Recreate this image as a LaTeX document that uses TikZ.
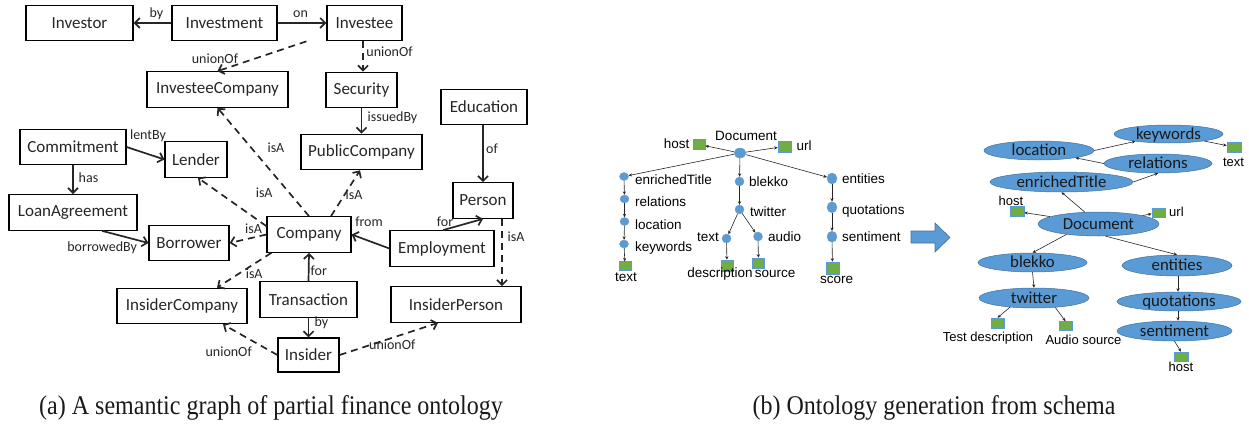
\documentclass[tikz,border=0pt]{standalone}
\usepackage{fontspec}
\setmainfont{Carlito}
\newfontfamily\arialf{Liberation Sans}
\newfontfamily\timesf{Liberation Serif}
\usetikzlibrary{arrows.meta,shapes.geometric,calc}
\definecolor{nodeblue}{HTML}{5B9BD5}
\definecolor{nodeborder}{HTML}{41719C}
\definecolor{leafgreen}{HTML}{70AD47}
\begin{document}
\begin{tikzpicture}[x=1pt,y=-1pt,
  box/.style={draw, line width=1.2pt, inner sep=0pt, minimum height=35.5pt, font=\fontsize{17}{17}\selectfont, text=black!85},
  rel/.style={line width=1.7pt, draw=black!85, -{Straight Barb[length=5pt,width=10pt]}},
  isa/.style={rel, dash pattern=on 7pt off 5pt},
  lab/.style={font=\fontsize{14}{14}\selectfont, inner sep=0pt, anchor=base, text=black!85},
  dot/.style={ellipse, fill=nodeblue, draw=nodeborder!70, line width=0.4pt, inner sep=0pt, minimum width=9pt, minimum height=8pt},
  leaf/.style={rectangle, fill=leafgreen, draw=nodeblue, line width=0.6pt, inner sep=0pt, minimum width=12pt, minimum height=9.5pt},
  tl/.style={font=\arialf\fontsize{13.5}{13.5}\selectfont, inner sep=0pt, text=black},
  tarr/.style={line width=0.6pt, draw=black!85, -{Stealth[length=3.5pt,width=3.2pt]}},
  ell/.style={ellipse, fill=nodeblue, draw=nodeborder, line width=0.5pt, inner sep=0pt, text height=10.6pt, text depth=0pt, font=\fontsize{16.8}{16.8}\selectfont, text=black!90},
  rl/.style={font=\arialf\fontsize{13}{13}\selectfont, inner sep=0pt, text=black, anchor=base},
  captxt/.style={font=\timesf\fontsize{27}{27}\selectfont, inner sep=0pt, anchor=base, text=black!90}
]
\useasboundingbox (0,0) rectangle (1249,425);

% ---------------- (a) semantic graph ----------------
\node[box, minimum width=107pt] (Investor) at (79.5,23) {Investor};
\node[box, minimum width=105pt] (Investment) at (224.5,23) {Investment};
\node[box, minimum width=75pt] (Investee) at (364.5,23) {Investee};
\node[box, minimum width=141pt] (InvesteeCompany) at (217.5,89.5) {InvesteeCompany};
\node[box, minimum width=71pt] (Security) at (361.5,90) {Security};
\node[box, minimum width=121pt] (PublicCompany) at (361.5,152) {PublicCompany};
\node[box, minimum width=86pt] (Education) at (484,107) {Education};
\node[box, minimum width=106pt] (Commitment) at (73,147) {Commitment};
\node[box, minimum width=62pt] (Lender) at (196,159.5) {Lender};
\node[box, minimum width=128pt] (LoanAgreement) at (73,212.5) {LoanAgreement};
\node[box, minimum width=80pt] (Borrower) at (189,243) {Borrower};
\node[box, minimum width=84pt] (Company) at (309,234.5) {Company};
\node[box, minimum width=60pt] (Person) at (483,200.5) {Person};
\node[box, minimum width=104pt] (Employment) at (442,248.5) {Employment};
\node[box, minimum width=97pt] (Transaction) at (308.5,299.5) {Transaction};
\node[box, minimum width=130pt] (InsiderCompany) at (182,306) {InsiderCompany};
\node[box, minimum width=130pt] (InsiderPerson) at (456,304.5) {InsiderPerson};
\node[box, minimum width=61pt, minimum height=34pt] (Insider) at (308.5,355) {Insider};

\draw[rel] (Investment.west) -- (Investor.east) node[lab, midway, xshift=4pt, yshift=5.5pt] {by};
\draw[rel] (Investment.east) -- (Investee.west) node[lab, midway, xshift=-1.5pt, yshift=5pt] {on};
\draw[isa] ([xshift=-20pt]Investee.south west) -- (InvesteeCompany.north) node[lab, midway, xshift=-47pt, yshift=-7pt] {unionOf};
\draw[isa] ([xshift=-1.5pt]Investee.south) -- ([xshift=1.5pt]Security.north) node[lab, midway, xshift=26.5pt, yshift=-0.5pt] {unionOf};
\draw[rel] (Security.south) -- (PublicCompany.north) node[lab, midway, xshift=31pt, yshift=-0.7pt] {issuedBy};
\draw[rel] ([xshift=-1pt]Education.south) -- (Person.north) node[lab, midway, xshift=9pt, yshift=0.7pt] {of};
\draw[rel] (Commitment.east) -- (Lender.west) node[lab, midway, xshift=2.5pt, yshift=14.2pt] {lentBy};
\draw[rel] (Commitment.south) -- (LoanAgreement.north) node[lab, midway, xshift=15.5pt, yshift=-3pt] {has};
\draw[rel] ([xshift=29pt]LoanAgreement.south) -- (Borrower.west) node[lab, midway, xshift=-23pt, yshift=-14.2pt] {borrowedBy};
\draw[isa] (Company.north) -- (InvesteeCompany.south) node[lab, midway, xshift=12.7pt, yshift=9.3pt] {isA};
\draw[isa] ([yshift=-10pt]Company.north west) -- ([xshift=2pt]Lender.south) node[lab, midway, xshift=32pt, yshift=4.3pt] {isA};
\draw[isa] ([xshift=22pt]Company.north) -- ([xshift=-1.5pt]PublicCompany.south) node[lab, midway, xshift=8.5pt, yshift=-6.7pt] {isA};
\draw[isa] (Company.west) -- (Borrower.east) node[lab, midway, xshift=5.5pt, yshift=5.7pt] {isA};
\draw[isa] ([xshift=5pt]Company.south west) -- ([xshift=35pt]InsiderCompany.north) node[lab, midway, xshift=10pt, yshift=-8.7pt] {isA};
\draw[rel] (Employment.west) -- (Company.east) node[lab, midway, xshift=-1.5pt, yshift=14.8pt] {from};
\draw[rel] ([xshift=1pt]Employment.north) -- (Person.south) node[lab, midway, xshift=-18pt, yshift=-1.5pt] {for};
\draw[isa] ([xshift=19pt]Person.south) -- ([xshift=46pt]InsiderPerson.north) node[lab, midway, xshift=14pt, yshift=10.8pt] {isA};
\draw[rel] (Transaction.north) -- (Company.south) node[lab, midway, xshift=10pt, yshift=-8pt] {for};
\draw[rel] (Transaction.south) -- (Insider.north) node[lab, midway, xshift=13pt, yshift=0.8pt] {by};
\draw[isa] (Insider.east) -- ([xshift=-18pt]InsiderPerson.south) node[lab, midway, xshift=3.5pt, yshift=-10.2pt] {unionOf};
\draw[isa] (Insider.west) -- ([xshift=41pt]InsiderCompany.south) node[lab, midway, xshift=-21.5pt, yshift=-17.2pt] {unionOf};

% ---------------- (b) left: schema tree ----------------
\node[dot, minimum width=12pt, minimum height=10pt] (docC) at (740,153) {};
\node[leaf] (hostS) at (699,144.5) {};
\node[leaf, minimum width=13pt, minimum height=11pt] (urlS) at (784.5,146.5) {};
\node[dot] (etC) at (624,176.5) {};
\node[dot] (relC) at (624.5,199) {};
\node[dot] (locC) at (624.5,221.5) {};
\node[dot] (kwC) at (624,244) {};
\node[leaf, minimum height=8.5pt] (txtS) at (625,266) {};
\node[dot, minimum height=9pt] (blC) at (739.5,181.5) {};
\node[dot, minimum height=9pt] (twC) at (739.5,209.5) {};
\node[dot, minimum height=9pt] (tC) at (726.5,238.5) {};
\node[dot, minimum height=9pt] (auC) at (758,236.5) {};
\node[leaf, minimum height=11pt] (descS) at (727,265.5) {};
\node[leaf, minimum height=10pt] (srcS) at (758.5,263) {};
\node[dot, minimum width=10pt, minimum height=11pt] (enC) at (832,178.5) {};
\node[dot, minimum width=10pt, minimum height=11pt] (quC) at (832,207.3) {};
\node[dot, minimum width=10pt, minimum height=11pt] (seC) at (832,236.7) {};
\node[leaf, minimum width=13pt, minimum height=12pt] (scS) at (832.5,268) {};

\node[tl, anchor=base] (docL) at (746,140.7) {Document};
\node[tl, anchor=base] (hostL) at (676.5,148) {host};
\node[tl, anchor=base] (urlL) at (804,150) {url};
\node[tl, anchor=base west] (etL) at (635,184) {enrichedTitle};
\node[tl, anchor=base west] (relL) at (635,206.7) {relations};
\node[tl, anchor=base west] (locL) at (635,229) {location};
\node[tl, anchor=base west] (kwL) at (635,251) {keywords};
\node[tl, anchor=base] (txtL) at (626,281.7) {text};
\node[tl, anchor=base west] (blL) at (749,186.7) {blekko};
\node[tl, anchor=base west] (twL) at (750,216) {twitter};
\node[tl, anchor=base] (tL) at (708,241.7) {text};
\node[tl, anchor=base west] (auL) at (768,241.7) {audio};
\node[tl, anchor=base] (descL) at (720,277.7) {description};
\node[tl, anchor=base] (srcL) at (775,277.7) {source};
\node[tl, anchor=base west] (enL) at (842,183.3) {entities};
\node[tl, anchor=base west] (quL) at (842,214) {quotations};
\node[tl, anchor=base west] (seL) at (842,241.7) {sentiment};
\node[tl, anchor=base] (scL) at (836.5,283.3) {score};

\draw[tarr] (docC) -- (hostS);
\draw[tarr] (docC) -- (urlS);
\draw[tarr] (docC) -- (etC);
\draw[tarr] (docC) -- (blC);
\draw[tarr] (docC) -- (enC);
\draw[tarr] (etC) -- (relC);
\draw[tarr] (relC) -- (locC);
\draw[tarr] (locC) -- (kwC);
\draw[tarr] (kwC) -- (txtS);
\draw[tarr] (blC) -- (twC);
\draw[tarr] (twC) -- (tC);
\draw[tarr] (twC) -- (auC);
\draw[tarr] (tC) -- (descS);
\draw[tarr] (auC) -- (srcS);
\draw[tarr] (enC) -- (quC);
\draw[tarr] (quC) -- (seC);
\draw[tarr] (seC) -- (scS);

% block arrow
\draw[fill=nodeblue, draw=nodeborder, line width=0.6pt] (911,231) -- (935,231) -- (935,223) -- (950,237.5) -- (935,252) -- (935,243) -- (911,243) -- cycle;

% ---------------- (b) right: generated ontology ----------------
\node[ell, minimum width=109pt, minimum height=18pt] (keywords) at (1168.5,134) {keywords};
\node[ell, minimum width=110pt, minimum height=19pt] (location) at (1039,150.5) {location};
\node[ell, minimum width=108pt, minimum height=19pt] (relations) at (1158,163.5) {relations};
\node[ell, minimum width=143pt, minimum height=20pt] (enrichedTitle) at (1061.5,182) {enrichedTitle};
\node[ell, minimum width=121pt, minimum height=24pt] (Document) at (1098.5,224) {Document};
\node[ell, minimum width=109pt, minimum height=19pt] (blekko) at (1032.5,262.5) {blekko};
\node[ell, minimum width=110pt, minimum height=21pt] (entities) at (1177,265.5) {entities};
\node[ell, minimum width=110pt, minimum height=20pt] (twitter) at (1034,298) {twitter};
\node[ell, minimum width=124pt, minimum height=19pt] (quotations) at (1179,301.5) {quotations};
\node[ell, minimum width=115pt, minimum height=20pt] (sentiment) at (1174.5,331) {sentiment};

\node[leaf, minimum width=14pt] (hostR) at (1017,211.5) {};
\node[leaf, minimum width=13pt, minimum height=9pt] (urlR) at (1158.5,212.5) {};
\node[leaf, minimum width=14pt, minimum height=10pt] (textR) at (1234,147) {};
\node[leaf, minimum width=13pt, minimum height=10pt] (tdR) at (997.5,323) {};
\node[leaf, minimum width=13pt, minimum height=9pt] (asR) at (1065.5,326) {};
\node[leaf, minimum width=14pt, minimum height=9pt] (host2R) at (1181,356.5) {};

\node[rl] (hostRL) at (1011,205) {host};
\node[rl, anchor=base west] (urlRL) at (1169,216.7) {url};
\node[rl] (textRL) at (1233.5,166) {text};
\node[rl] (tdRL) at (988,341.7) {Test description};
\node[rl] (asRL) at (1083.5,344.3) {Audio source};
\node[rl] (host2RL) at (1181,371.7) {host};

\draw[tarr] (Document.139) -- (enrichedTitle.south);
\draw[tarr] (enrichedTitle.east) -- (relations.south);
\draw[tarr] (relations.west) -- (location);
\draw[tarr] (location.east) -- (keywords);
\draw[tarr] (keywords) -- (textR);
\draw[tarr] (Document) -- (hostR);
\draw[tarr] (Document) -- (urlR);
\draw[tarr] (Document.198) -- (blekko.north);
\draw[tarr] (Document.300) -- (entities.north);
\draw[tarr] (blekko.south) -- (twitter.north);
\draw[tarr] (twitter.201) -- (tdR.north);
\draw[tarr] (twitter.336) -- (asR.north);
\draw[tarr] ([xshift=1pt]entities.south) -- ([xshift=-1pt]quotations.north);
\draw[tarr] ([xshift=-1pt]quotations.south) -- ([xshift=3.5pt]sentiment.north);
\draw[tarr] (sentiment.south) -- (host2R.north);

% captions
\node[captxt] (capA) at (271,414) {\scalebox{0.89}[1]{(a) A semantic graph of partial finance ontology}};
\node[captxt] (capB) at (934,414) {\scalebox{0.89}[1]{(b) Ontology generation from schema}};
\end{tikzpicture}
\end{document}
